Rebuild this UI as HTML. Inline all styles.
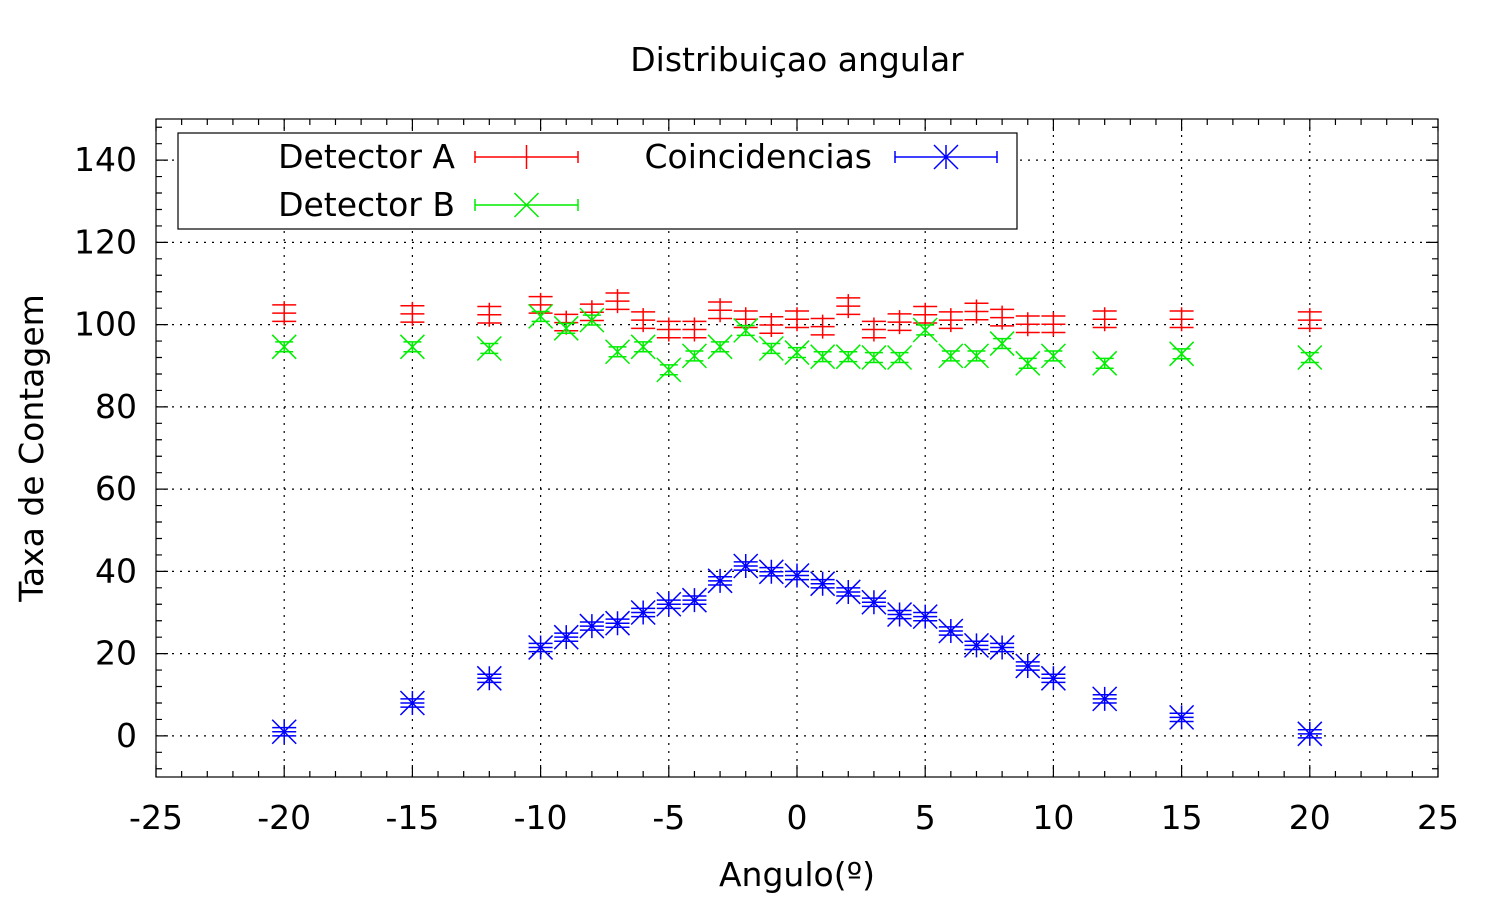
<!DOCTYPE html>
<html><head><meta charset="utf-8"><style>
body{margin:0;background:#fff}
svg text{font-family:"DejaVu Sans","Liberation Sans",sans-serif;fill:#000}
</style></head><body>
<svg id="chart" width="1500" height="901" viewBox="0 0 1500 901" xmlns="http://www.w3.org/2000/svg">
<rect width="1500" height="901" fill="#fff"/>
<text x="797" y="71" font-size="33" text-anchor="middle">Distribuiçao angular</text>
<text x="797" y="886" font-size="33" text-anchor="middle">Angulo(º)</text>
<text x="0" y="0" font-size="33" text-anchor="middle" transform="translate(43,448) rotate(-90)">Taxa de Contagem</text>
<g id="grid"></g><g id="axes"></g><g id="series"></g>
<g id="legend">
<rect x="178" y="133" width="839" height="96" fill="#fff" stroke="#000" stroke-width="1.2"/>
<text x="455" y="168" font-size="33" text-anchor="end">Detector A</text>
<text x="455" y="216" font-size="33" text-anchor="end">Detector B</text>
<text x="872" y="168" font-size="33" text-anchor="end">Coincidencias</text>
</g>
</svg>
<script>
const xs=[-20,-15,-12,-10,-9,-8,-7,-6,-5,-4,-3,-2,-1,0,1,2,3,4,5,6,7,8,9,10,12,15,20];
const detA=[102.8,102.6,102.4,104.8,100.5,103,105.7,101.1,98.8,98.8,103.5,101.3,99.9,101.3,99.5,104.5,98.8,100.6,102.4,101.1,103.2,101.7,100.1,100.1,101.3,101.3,101.1];
const detB=[94.6,94.6,94.2,102,99.1,101.1,93.4,94.6,89,92.4,94.6,98.6,94.2,93.2,92.2,92.2,92,92,98.7,92.4,92.4,95.4,90.6,92.4,90.6,92.9,92];
const coinc=[1,8,14,21.5,24,26.7,27.4,30,32,33,37.7,41.3,39.9,39,37,35,32.5,29.5,29,25.5,22,21.5,17,14,9,4.5,0.5];
const errA=2,errB=1.2,errC=1;
const xTicks=[-25,-20,-15,-10,-5,0,5,10,15,20,25];
const yTicks=[0,20,40,60,80,100,120,140];
const NS="http://www.w3.org/2000/svg";
const L=156,R=1438,T=119,B=777;
const X=v=>L+(v+25)*(R-L)/50;
const Y=v=>B-(v+10)*(B-T)/160;
function mk(p,tag,a){const e=document.createElementNS(NS,tag);for(const k in a)e.setAttribute(k,a[k]);p.appendChild(e);return e;}
const grid=document.getElementById('grid'),axes=document.getElementById('axes'),ser=document.getElementById('series');
xTicks.forEach(t=>{
 if(t>-25&&t<25){const g=mk(grid,'line',{x1:X(t),x2:X(t),y1:T,y2:B,stroke:'#000','stroke-width':1.2,'stroke-dasharray':'2,6'});
 
 }
 const tx=mk(axes,'text',{x:X(t),y:829,'font-size':33,'text-anchor':'middle'});tx.textContent=t;
 
 
});
yTicks.forEach(t=>{
 const g=mk(grid,'line',{x1:L,x2:R,y1:Y(t),y2:Y(t),stroke:'#000','stroke-width':1.2,'stroke-dasharray':'2,6'});
 
 
 const tx=mk(axes,'text',{x:137,y:Y(t)+11,'font-size':33,'text-anchor':'end'});tx.textContent=t;
 
 
});
let d='';
for(let v=-25;v<=25;v++){const big=v%5===0;const h=big?12:6;d+=`M${X(v)} ${B}v${-h}M${X(v)} ${T}v${h}`;}
for(let v=-8;v<=150;v+=4){const big=v%20===0;const h=big?12:6;d+=`M${L} ${Y(v)}h${h}M${R} ${Y(v)}h${-h}`;}
const tk=mk(axes,'path',{d:d,stroke:'#000','stroke-width':1.2,fill:'none'});


const fr=mk(axes,'rect',{x:L,y:T,width:R-L,height:B-T,fill:'none',stroke:'#000','stroke-width':1.2});


function marker(type,cx,cy){
 if(type==='plus')return `M${cx-12} ${cy}h24M${cx} ${cy-12}v24`;
 if(type==='x')return `M${cx-12} ${cy-12}l24 24M${cx-12} ${cy+12}l24 -24`;
 return `M${cx-12} ${cy}h24M${cx} ${cy-12}v24M${cx-12} ${cy-12}l24 24M${cx-12} ${cy+12}l24 -24`;
}
function series(vals,err,color,type,name,cap){
 const g=mk(ser,'g',{});
 
 
 vals.forEach((v,i)=>{
  const cx=X(xs[i]),cy=Y(v),y1=Y(v+err),y2=Y(v-err);
  const p=mk(g,'path',{d:`M${cx} ${y1}V${y2}M${cx-cap} ${y1}h${2*cap}M${cx-cap} ${y2}h${2*cap}`+marker(type,cx,cy),stroke:color,'stroke-width':1.5,fill:'none'});
  
  
 });
}
series(detA,errA,'#ff0000','plus','detector-a',12);
series(detB,errB,'#00ee00','x','detector-b',9);
series(coinc,errC,'#0000ff','star','coincidencias',12);
const lg=document.getElementById('legend');
function legSample(x1,x2,y,color,type,name){
 const cx=(x1+x2)/2;
 const p=mk(lg,'path',{d:`M${x1} ${y}H${x2}M${x1} ${y-6}v12M${x2} ${y-6}v12`+marker(type,cx,y),stroke:color,'stroke-width':1.5,fill:'none'});
 
 
}
legSample(475,578,157,'#ff0000','plus','detector-a');
legSample(475,578,205,'#00ee00','x','detector-b');
legSample(895,997,157,'#0000ff','star','coincidencias');
</script>
</body></html>
